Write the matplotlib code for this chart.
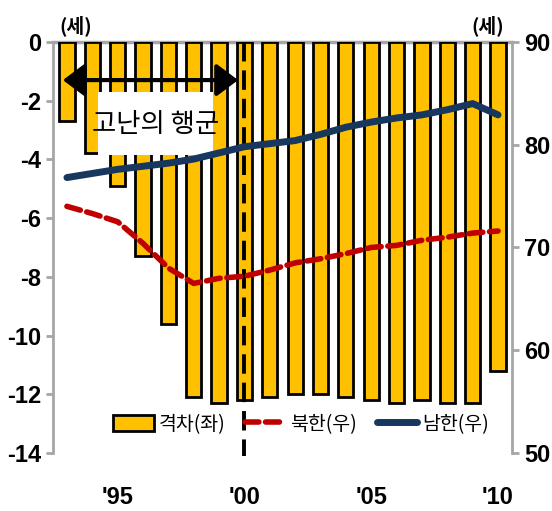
import numpy as np
import matplotlib.pyplot as plt
from matplotlib.patches import Rectangle

##########  DATA  ##########
years = np.arange(1993, 2011)
gap = [-2.7, -3.8, -4.9, -7.3, -9.6, -12.1, -12.3, -12.2, -12.1,
       -12.0, -12.0, -12.1, -12.2, -12.3, -12.2, -12.3, -12.3, -11.2]
north = [74.0, 73.3, 72.5, 70.4, 68.0, 66.5, 67.0, 67.2, 67.8,
         68.5, 68.9, 69.4, 70.0, 70.2, 70.7, 71.0, 71.4, 71.6]
south = [76.8, 77.2, 77.6, 77.9, 78.2, 78.6, 79.2, 79.8, 80.1,
         80.4, 81.0, 81.7, 82.2, 82.6, 82.9, 83.4, 84.0, 82.9]
xticks = [1995, 2000, 2005, 2010]
xticklabels = ["'95", "'00", "'05", "'10"]
labels = ['격차(좌)', '북한(우)', '남한(우)']
event = '고난의 행군'

### fonts ###
plt.rcParams['font.family'] = ['Noto Sans CJK KR', 'DejaVu Sans']
plt.rcParams['axes.unicode_minus'] = False
numfont = 'Liberation Sans'
gray = '#a6a6a6'

### Plot ###
fig = plt.figure(figsize=(5.52, 5.11), dpi=100)
ax = fig.add_axes([0.096, 0.1135, 0.8315, 0.8045])
ax2 = ax.twinx()

ax.bar(years, gap, width=0.6, color='#FFC000', edgecolor='black', linewidth=2,
       zorder=2, label=labels[0])
ax.set_ylim(-14, 0)
ax.set_xlim(1992.45, 2010.55)
ax.set_yticks(range(-14, 1, 2))
ax.set_xticks(xticks)
ax.set_xticklabels(xticklabels)

ax2.set_ylim(50, 90)
ax2.set_yticks(range(50, 91, 10))
l1, = ax2.plot(years, north, color='#C00000', lw=4, dashes=(2.5, 1.2),
               dash_capstyle='round', zorder=3)
l2, = ax2.plot(years, south, color='#17375E', lw=5, solid_capstyle='round', zorder=3)

for a in (ax, ax2):
    for s in a.spines.values():
        s.set_visible(False)
ax.spines['left'].set_visible(True)
ax.spines['left'].set_color(gray)
ax.spines['left'].set_linewidth(2)
ax2.spines['right'].set_visible(True)
ax2.spines['right'].set_color(gray)
ax2.spines['right'].set_linewidth(2)
ax.axhline(0, color=gray, lw=2.5, zorder=1, clip_on=False)

ax.tick_params(axis='y', colors=gray, width=2, length=5, labelcolor='black')
ax2.tick_params(axis='y', colors=gray, width=2, length=5, labelcolor='black')
ax.tick_params(axis='x', length=0, pad=24)
for lab in ax.get_yticklabels() + ax2.get_yticklabels() + ax.get_xticklabels():
    lab.set_fontfamily(numfont)
    lab.set_fontweight('bold')
    lab.set_fontsize(17)

# vertical marker at 2000 and arrow
ax.plot([2000, 2000], [0, -14.1], color='black', lw=2.8, dashes=(5, 2.3),
        zorder=4, clip_on=False)
ax.annotate('', xy=(1992.84, -1.3), xytext=(1999.75, -1.3),
            arrowprops=dict(arrowstyle='<|-|>,head_length=0.6,head_width=0.45',
                            lw=3, color='black', mutation_scale=22,
                            shrinkA=0, shrinkB=0), zorder=5)
ax.add_patch(Rectangle((1994.22, -3.85), 4.54, 2.15, facecolor='white',
                       edgecolor='none', zorder=5))
ax.text(1996.49, -2.8, event, fontsize=19, ha='center', va='center', zorder=6)

ax.text(1993.35, 0.2, '(세)', fontsize=14, ha='center', va='bottom', fontweight='bold')
ax.text(2009.6, 0.2, '(세)', fontsize=14, ha='center', va='bottom', fontweight='bold')

handles, _ = ax.get_legend_handles_labels()
ax.legend(handles + [l1, l2], labels, loc='center', bbox_to_anchor=(0.54, 0.07),
          ncol=3, frameon=False, fontsize=14, handlelength=2.1, handleheight=0.9,
          handletextpad=0.25, columnspacing=1.0)

plt.savefig('out.png', dpi=100)
